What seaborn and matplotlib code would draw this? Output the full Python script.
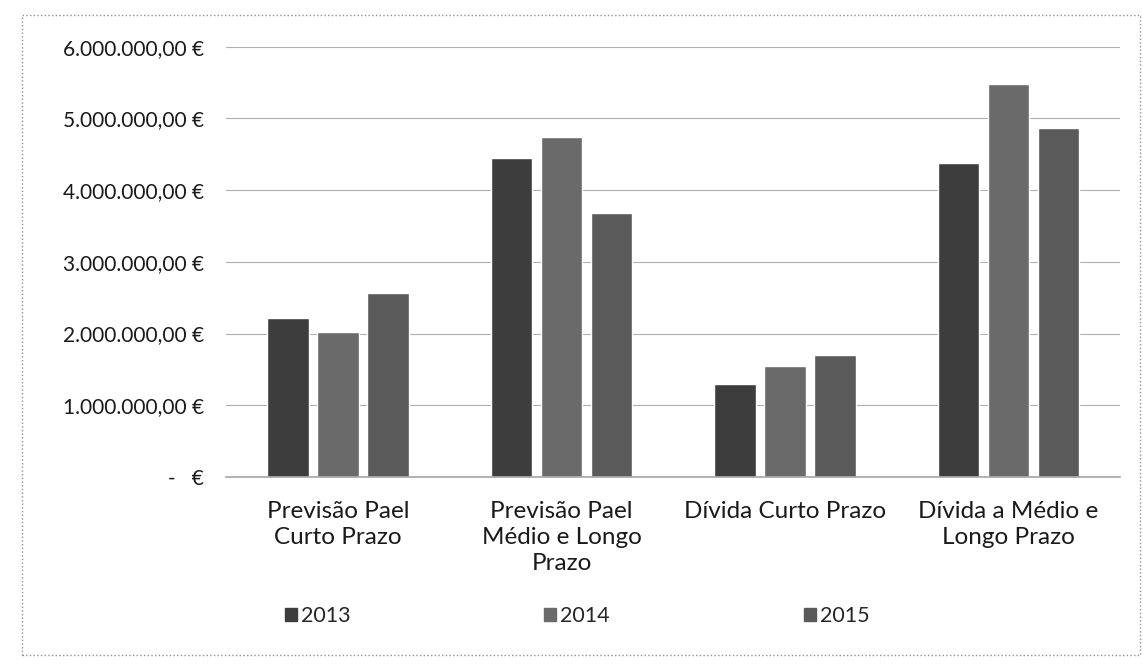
import matplotlib
matplotlib.use("Agg")
import matplotlib.pyplot as plt
import matplotlib.patches as mpatches
from matplotlib.ticker import FuncFormatter
import pandas as pd
import seaborn as sns

# --- data ---
categories = [
    "Previsão Pael\nCurto Prazo",
    "Previsão Pael\nMédio e Longo\nPrazo",
    "Dívida Curto Prazo",
    "Dívida a Médio e\nLongo Prazo",
]
years = ["2013", "2014", "2015"]
v2013 = [2210000, 4450000, 1300000, 4380000]
v2014 = [2020000, 4740000, 1550000, 5480000]
v2015 = [2560000, 3680000, 1700000, 4870000]
yticks = [0, 1000000, 2000000, 3000000, 4000000, 5000000, 6000000]

colors = {"2013": "#3d3d3d", "2014": "#6a6a6a", "2015": "#5a5a5a"}

df = pd.DataFrame({
    "categoria": categories * 3,
    "ano": [y for y in years for _ in categories],
    "valor": v2013 + v2014 + v2015,
})

sns.set_theme(style="white")
plt.rcParams["font.family"] = ["Lato", "DejaVu Sans"]

fig = plt.figure(figsize=(11.43, 6.68), dpi=100)
ax = fig.add_axes([0.198, 0.286, 0.782, 0.644])

sns.barplot(data=df, x="categoria", y="valor", hue="ano", palette=colors,
            width=0.67, gap=0.17, order=categories, hue_order=years,
            legend=False, ax=ax)


def euro(v, pos):
    if v == 0:
        return "-   €"
    s = f"{v:,.2f}".replace(",", "X").replace(".", ",").replace("X", ".")
    return s + " €"


ax.set_ylim(0, 6000000)
ax.set_yticks(yticks)
ax.yaxis.set_major_formatter(FuncFormatter(euro))
ax.grid(axis="y", color="#b0b0b0", linewidth=0.8)
ax.set_axisbelow(True)
ax.set_xlabel("")
ax.set_ylabel("")
for s in ax.spines.values():
    s.set_visible(False)
ax.spines["bottom"].set_visible(True)
ax.spines["bottom"].set_color("#a8a8a8")
ax.tick_params(axis="y", length=0, pad=16, labelsize=15, labelcolor="#1a1a1a")
ax.tick_params(axis="x", length=0, pad=17, labelsize=17.5, labelcolor="#1a1a1a")
ax.set_xticks(range(len(categories)))
ax.set_xticklabels(categories, linespacing=1.3)

handles = [mpatches.Patch(color=colors[y], label=y) for y in years]
fig.legend(handles=handles, loc="center", bbox_to_anchor=(0.505, 0.078),
           ncol=3, frameon=False, fontsize=15.5, handlelength=0.55,
           handleheight=0.55, handletextpad=0.2, columnspacing=9.0)

# dotted frame of the chart area
fig.patches.append(mpatches.Rectangle((22 / 1143, 13 / 668), 1118 / 1143, 640 / 668,
                                      transform=fig.transFigure, fill=False,
                                      edgecolor="#909090", linestyle=":", linewidth=1))

fig.savefig("out.png", dpi=100)
